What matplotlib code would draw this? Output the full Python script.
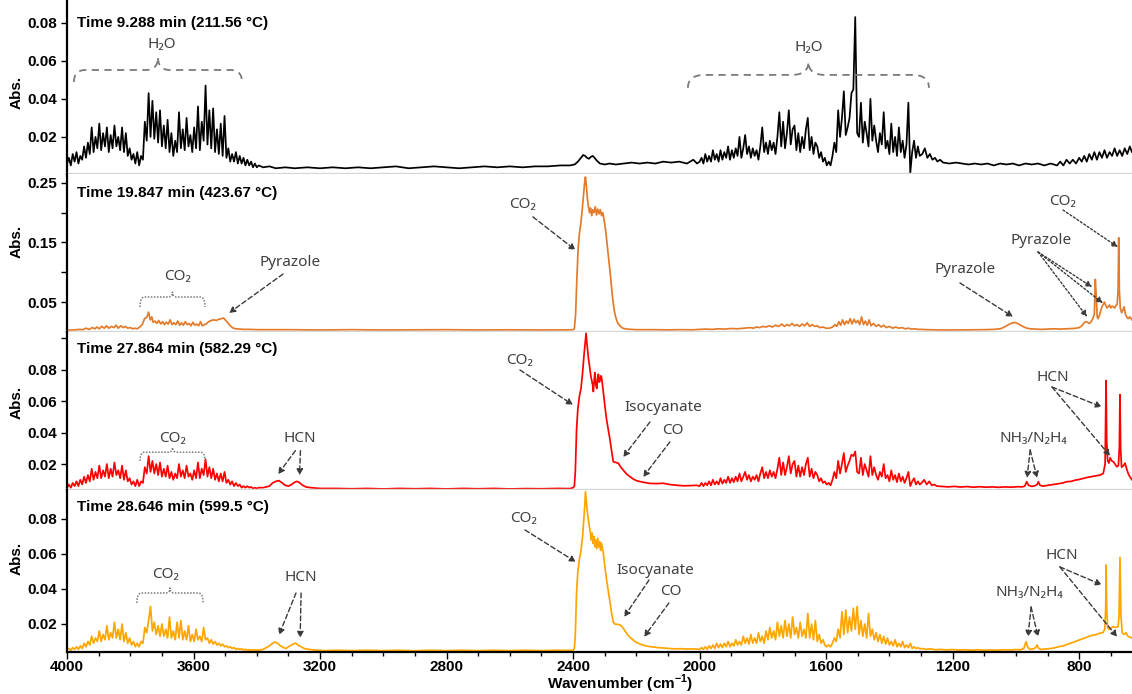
import numpy as np
import matplotlib
matplotlib.use('Agg')
import matplotlib.pyplot as plt
from matplotlib.ticker import FixedLocator, MultipleLocator, FormatStrFormatter

plt.rcParams['font.family'] = ['Liberation Sans', 'DejaVu Sans']
plt.rcParams['mathtext.fontset'] = 'custom'
plt.rcParams['mathtext.rm'] = 'Liberation Sans'
plt.rcParams['mathtext.bf'] = 'Liberation Sans:bold'

# ---- data (absorbance in mAbs) ----
titles = ['Time 9.288 min (211.56 °C)', 'Time 19.847 min (423.67 °C)',
          'Time 27.864 min (582.29 °C)', 'Time 28.646 min (599.5 °C)']
colors = ['black', '#E37B2B', '#FF0000', '#FFA500']

# panel 1 (211.56 °C): 4000-3400 cm-1 every 6 cm-1
p1_hi = [6, 9, 5, 11, 7, 12, 6, 10, 8, 15,
         9, 17, 11, 25, 12, 20, 14, 27, 13, 22,
         15, 25, 12, 21, 14, 26, 15, 20, 13, 25,
         12, 22, 10, 14, 8, 11, 6, 12, 5, 10,
         8, 28, 18, 43, 20, 39, 19, 33, 17, 34,
         15, 26, 14, 29, 12, 22, 10, 18, 12, 33,
         14, 24, 13, 30, 15, 21, 12, 25, 14, 36,
         13, 28, 18, 47, 16, 34, 14, 35, 12, 24,
         11, 27, 10, 31, 9, 14, 7, 11, 7, 12,
         6, 10, 6, 9, 5, 8, 5, 7, 4, 6,
         4]
p1_mid = [(3394, 5), (3380, 4), (3360, 4.5), (3340, 3.5), (3310, 4), (3280, 3.5), (3240, 4),
          (3200, 3.5), (3160, 4), (3120, 3.5), (3080, 4), (3040, 3.5), (3000, 4), (2960, 4.5),
          (2920, 3.5), (2880, 4), (2840, 4.5), (2800, 4), (2760, 3.5), (2720, 4), (2680, 4.5),
          (2640, 4), (2600, 4.5), (2560, 4), (2520, 4.5), (2480, 4.5), (2440, 5), (2410, 5),
          (2395, 5.5), (2385, 7), (2375, 9), (2368, 10.5), (2362, 10), (2356, 9), (2350, 8.5),
          (2344, 9.5), (2338, 10), (2332, 9), (2325, 7.5), (2315, 6), (2300, 5.5), (2285, 6),
          (2265, 5.5), (2240, 6), (2215, 6.5), (2190, 6), (2165, 6.5), (2140, 6), (2115, 7),
          (2090, 6.5), (2065, 7), (2040, 6), (2020, 8), (2008, 6)]
# 2000-1304 cm-1 every 6 cm-1
p1_lo = [7, 9, 6, 11, 7, 10, 7, 13, 8, 11,
         7, 13, 8, 12, 9, 15, 8, 13, 9, 14,
         10, 20, 9, 14, 21, 11, 15, 9, 14, 10,
         13, 8, 15, 25, 12, 17, 11, 18, 13, 17,
         11, 20, 33, 15, 28, 14, 22, 34, 16, 24,
         26, 13, 22, 12, 20, 14, 24, 30, 13, 20,
         11, 17, 15, 9, 12, 7, 9, 5, 7, 5,
         10, 17, 12, 34, 20, 30, 44, 21, 25, 30,
         43, 45, 83, 22, 20, 38, 17, 28, 22, 15,
         40, 18, 26, 18, 12, 22, 16, 33, 14, 18,
         11, 27, 12, 20, 10, 25, 12, 18, 9, 16,
         38, 1, 12, 18, 9, 15, 10]
p1_end = [(1296, 11), (1288, 14), (1280, 9), (1272, 11), (1264, 8), (1256, 9), (1248, 7),
          (1240, 8), (1230, 6.5), (1210, 6), (1190, 6.5), (1170, 6), (1150, 5.5), (1130, 6),
          (1110, 5.5), (1090, 6), (1070, 5), (1050, 6), (1030, 5.5), (1010, 6), (990, 5),
          (970, 6), (950, 5.5), (930, 6), (910, 5), (890, 6), (870, 5), (860, 7), (850, 5),
          (840, 8), (830, 6), (820, 8), (810, 6), (800, 9), (792, 7), (784, 10), (776, 7),
          (768, 11), (760, 8), (752, 12), (744, 8), (736, 12), (728, 9), (720, 13), (712, 9),
          (704, 12), (696, 10), (688, 14), (680, 10), (672, 13), (664, 10), (656, 14),
          (648, 11), (640, 15), (633, 12)]

# panel 2 (423.67 °C)
p2 = [(4000, 3), (3980, 3), (3960, 4), (3950, 3.5), (3940, 6), (3930, 4), (3920, 7), (3912, 5),
      (3905, 8), (3898, 5), (3890, 9), (3882, 6), (3875, 10), (3868, 6), (3860, 9), (3852, 7),
      (3845, 11), (3838, 6), (3830, 10), (3822, 7), (3815, 9), (3808, 6), (3800, 7), (3792, 5),
      (3785, 6), (3778, 5), (3770, 8), (3762, 12), (3755, 22), (3748, 24), (3742, 33),
      (3737, 20), (3732, 25), (3728, 16), (3722, 18), (3716, 14), (3710, 19), (3704, 13),
      (3698, 17), (3692, 12), (3686, 16), (3680, 13), (3674, 20), (3668, 12), (3662, 15),
      (3656, 12), (3650, 18), (3644, 11), (3638, 15), (3632, 11), (3626, 17), (3620, 12),
      (3614, 14), (3608, 10), (3602, 16), (3596, 11), (3590, 13), (3584, 10), (3578, 17),
      (3572, 10), (3566, 12), (3560, 13), (3552, 17), (3544, 19), (3536, 20), (3528, 19),
      (3520, 21), (3512, 22), (3505, 23), (3498, 19), (3490, 14), (3482, 9), (3474, 6),
      (3466, 5), (3455, 4.5), (3440, 4), (3420, 4), (3400, 3.5), (3300, 3.5), (3200, 3),
      (3100, 3.5), (3000, 3), (2900, 3.2), (2800, 3.5), (2700, 3), (2600, 3.3), (2500, 3),
      (2420, 3.2), (2400, 3.5), (2396, 5), (2392, 30), (2388, 90), (2384, 140), (2380, 165),
      (2376, 180), (2372, 200), (2368, 225), (2364, 248), (2361, 260), (2358, 245), (2355, 225),
      (2352, 212), (2348, 200), (2345, 208), (2341, 195), (2338, 205), (2334, 200), (2330, 210),
      (2326, 196), (2322, 206), (2318, 198), (2314, 205), (2310, 195), (2306, 200), (2302, 188),
      (2297, 170), (2292, 145), (2287, 120), (2282, 95), (2278, 72), (2274, 52), (2270, 36),
      (2266, 26), (2262, 19), (2258, 14), (2252, 10), (2246, 7), (2240, 5.5), (2230, 4.5),
      (2215, 4), (2200, 3.5), (2150, 3.5), (2100, 3.2), (2060, 3.5), (2020, 3.3),
      (2000, 4), (1980, 4.5), (1960, 4), (1940, 5), (1920, 4.5), (1900, 5.5), (1880, 5),
      (1860, 6), (1840, 7), (1830, 6), (1820, 8), (1810, 7), (1800, 9), (1790, 8), (1780, 10),
      (1770, 8), (1760, 11), (1750, 9), (1740, 13), (1732, 9), (1724, 12), (1716, 10),
      (1708, 14), (1700, 10), (1692, 12), (1684, 9), (1676, 13), (1668, 10), (1660, 15),
      (1652, 9), (1644, 12), (1636, 9), (1628, 10), (1620, 7), (1610, 8), (1600, 6), (1590, 6),
      (1580, 8), (1572, 12), (1566, 9), (1560, 17), (1554, 11), (1548, 20), (1542, 12),
      (1536, 18), (1530, 14), (1524, 22), (1518, 13), (1512, 21), (1506, 15), (1500, 19),
      (1494, 12), (1488, 25), (1482, 12), (1476, 18), (1470, 11), (1464, 20), (1458, 10),
      (1450, 14), (1442, 9), (1434, 12), (1426, 8), (1418, 11), (1410, 7), (1400, 9), (1390, 6),
      (1380, 8), (1370, 6), (1360, 7), (1350, 5), (1340, 6), (1330, 4.5), (1320, 5), (1310, 4),
      (1300, 4), (1280, 3.5), (1260, 3.2), (1240, 3), (1200, 3), (1150, 3.2), (1100, 3.5),
      (1070, 4), (1050, 5), (1040, 7), (1030, 10), (1020, 13), (1010, 15), (1003, 15.5),
      (995, 14), (985, 11), (975, 8), (965, 6), (955, 5), (940, 4.5), (920, 4), (900, 4.5),
      (880, 5), (860, 4.5), (840, 5), (820, 5.5), (810, 6), (800, 7), (792, 10), (786, 14),
      (780, 17), (774, 16), (768, 14), (762, 17), (757, 22), (752, 30), (749, 88), (746, 60),
      (743, 25), (740, 22), (736, 28), (732, 35), (728, 42), (724, 46), (720, 50), (716, 44),
      (712, 40), (708, 42), (704, 45), (700, 40), (696, 43), (692, 42), (688, 40), (684, 44),
      (680, 46), (677, 70), (675, 158), (673, 70), (670, 40), (666, 32), (662, 36), (658, 42),
      (654, 30), (650, 25), (645, 22), (640, 25), (633, 20)]

# panel 3 (582.29 °C)
p3_hi = [5, 7, 5, 8, 6, 9, 6, 10, 7, 12,
         8, 13, 9, 17, 10, 15, 11, 19, 11, 16,
         12, 20, 11, 17, 12, 21, 13, 16, 11, 19,
         10, 16, 9, 11, 7, 9, 6, 10, 6, 9,
         8, 18, 14, 25, 15, 22, 14, 20, 13, 21,
         12, 17, 12, 19, 11, 15, 10, 14, 11, 20,
         12, 16, 11, 19, 12, 14, 10, 16, 11, 21,
         11, 17, 13, 23, 12, 18, 11, 17, 10, 14,
         9, 14, 9, 15, 8, 10, 7, 9, 6, 8,
         6, 7, 5, 6, 5, 6, 5, 5.5, 4.5, 5,
         4.5]
p3_mid = [(3394, 5), (3380, 5), (3370, 5.5), (3360, 6), (3350, 8), (3340, 9), (3330, 9.5),
          (3320, 8), (3310, 6.5), (3300, 6), (3290, 7), (3280, 8.5), (3272, 9), (3264, 8),
          (3255, 6.5), (3245, 5.5), (3230, 5), (3200, 4.5), (3150, 4.5), (3100, 4.3),
          (3050, 4.5), (3000, 4.2), (2950, 4.5), (2900, 4.3), (2850, 4.5), (2800, 4.2),
          (2750, 4.5), (2700, 4.3), (2650, 4.5), (2600, 4.2), (2550, 4.4), (2500, 4.3),
          (2450, 4.5), (2410, 4.4), (2400, 5), (2396, 6), (2393, 15), (2389, 42), (2385, 55),
          (2380, 63), (2375, 68), (2370, 78), (2366, 88), (2362, 97), (2359, 103), (2356, 96),
          (2352, 88), (2348, 82), (2344, 76), (2341, 73), (2338, 70), (2336, 66), (2333, 74),
          (2331, 78), (2328, 70), (2325, 68), (2322, 75), (2320, 77), (2317, 72), (2315, 73),
          (2312, 76), (2310, 75), (2307, 70), (2304, 65), (2299, 56), (2294, 48), (2288, 41),
          (2283, 35), (2278, 28), (2273, 21.5), (2265, 21), (2257, 20.5), (2249, 18),
          (2241, 16), (2230, 13.5), (2220, 12), (2210, 10.5), (2199, 9.4), (2180, 8.5),
          (2157, 7.7), (2135, 7.6), (2115, 7.8), (2095, 7), (2070, 6.5), (2051, 6.2),
          (2030, 6.3), (2010, 6.5)]
p3_lo = [6, 8, 6, 8, 6.5, 9, 6.5, 10, 7, 9,
         7, 11, 7.5, 10, 8, 12, 8, 11, 8.5, 12,
         9, 14, 9, 12, 15, 10, 13, 9, 12, 10,
         13, 9, 14, 18, 11, 15, 11, 16, 12, 15,
         11, 17, 24, 13, 21, 13, 18, 25, 14, 20,
         22, 12, 19, 12, 18, 13, 20, 24, 12, 17,
         11, 15, 13, 9, 11, 8, 9, 7, 8, 6.5,
         10, 15, 11, 22, 14, 20, 27, 15, 19, 22,
         26, 25, 28, 15, 14, 24, 13, 20, 16, 12,
         25, 13, 18, 13, 10, 15, 12, 20, 11, 13,
         9, 16, 10, 13, 8.5, 14, 9, 12, 8, 11,
         15, 6, 9, 11, 7, 9, 7]
p3_end = [(1298, 8), (1290, 10), (1282, 7), (1274, 9), (1266, 6.5), (1258, 7), (1250, 6),
          (1235, 5.8), (1215, 5.5), (1195, 5.8), (1175, 5.4), (1155, 5.7), (1135, 5.3),
          (1115, 5.6), (1095, 5.3), (1075, 5.5), (1055, 5.2), (1035, 5.5), (1015, 5.3),
          (995, 5.6), (980, 5.5), (972, 6), (966, 8.8), (960, 6.5), (950, 5.8), (940, 6.2),
          (933, 7), (929, 8.8), (924, 6.5), (915, 6), (905, 6.3), (892, 6.7), (880, 7),
          (866, 7.5), (852, 8), (839, 8.8), (825, 9), (812, 9.8), (800, 10.2), (787, 10.9),
          (775, 11.5), (762, 12), (748, 12.5), (734, 13), (724, 14), (718, 20), (715, 73),
          (713, 35), (710, 22), (706, 20.6), (702, 24), (697, 22), (692, 21.5), (687, 20),
          (681, 18.3), (676, 19), (673, 30), (671, 64), (669, 30), (666, 18), (660, 19),
          (655, 20.6), (650, 17), (645, 14), (640, 12), (633, 10)]

# panel 4 (599.5 °C)
p4_hi = [5.5, 6, 5, 6.5, 5.5, 7, 5.5, 7.5, 6, 9,
         7, 10, 8, 13, 9, 12, 10, 16, 10, 14,
         11, 19, 11, 15, 12, 21, 12, 17, 11, 20,
         10, 15, 9, 12, 8, 10, 7, 9, 7, 10,
         9, 18, 15, 22, 30, 16, 21, 14, 19, 13,
         20, 13, 17, 12, 24, 12, 16, 11, 21, 12,
         22, 11, 16, 11, 19, 10, 14, 10, 17, 11,
         13, 10, 18, 11, 12, 9, 11, 8.5, 10, 8,
         9, 7.5, 8.5, 7, 7.5, 6.5, 7, 6, 6.5, 5.5,
         6, 5.5, 5.8, 5.2, 5.5, 5, 5.4, 5, 5.3, 5,
         5.2]
p4_mid = [(3394, 5), (3380, 5.5), (3370, 6.5), (3360, 7.5), (3350, 9), (3342, 9.7), (3335, 9),
          (3325, 7.5), (3315, 6.5), (3308, 6), (3300, 7), (3290, 8), (3283, 8.8), (3277, 9),
          (3270, 8), (3260, 7), (3250, 6), (3235, 5.5), (3210, 5), (3180, 4.8), (3150, 5),
          (3100, 4.8), (3050, 5), (3000, 4.8), (2950, 5), (2900, 4.7), (2850, 5), (2800, 4.8),
          (2750, 5), (2700, 4.8), (2650, 5), (2600, 4.8), (2550, 5), (2500, 4.8), (2450, 5),
          (2410, 4.9), (2400, 5), (2396, 6), (2393, 14), (2389, 38), (2385, 50), (2380, 57),
          (2375, 62), (2370, 70), (2366, 80), (2363, 88), (2361, 95.6), (2358, 90), (2355, 84),
          (2352, 80), (2349, 76), (2346, 73), (2343, 68), (2340, 72), (2337, 66), (2334, 70),
          (2331, 64), (2328, 68), (2325, 63), (2322, 69), (2319, 64), (2316, 67), (2313, 62),
          (2310, 66), (2307, 63), (2304, 60), (2299, 52), (2294, 45), (2288, 38), (2283, 32),
          (2278, 26), (2273, 21), (2268, 20), (2260, 19.8), (2252, 19.5), (2245, 18.5),
          (2236, 16), (2226, 13.5), (2218, 12), (2211, 11), (2200, 9.5), (2185, 8.3),
          (2170, 7.5), (2154, 7), (2130, 6.5), (2110, 6.2), (2096, 6), (2080, 5.8), (2060, 5.9),
          (2040, 5.7), (2020, 5.8), (2006, 5.6)]
p4_lo = [5.5, 6.5, 5.5, 7, 5.5, 7.5, 6, 8, 6, 9,
         6.5, 8.5, 6.5, 9, 7, 10, 7, 9, 7.5, 11,
         8, 10, 8, 13, 9, 12, 8.5, 14, 9, 12,
         9, 15, 10, 13, 9, 16, 11, 18, 12, 16,
         11, 21, 13, 19, 12, 22, 13, 20, 12, 24,
         14, 18, 12, 21, 13, 17, 12, 26, 12, 20,
         11, 22, 10, 14, 9, 11, 8, 7, 8, 7,
         9, 12, 10, 17, 12, 27, 14, 28, 15, 24,
         16, 29, 17, 30, 14, 22, 13, 20, 12, 26,
         13, 17, 11, 15, 10, 14, 9, 13, 8.5, 12,
         8, 10, 7.5, 11, 7, 9, 7, 10, 6.5, 8,
         6.5, 9, 6, 7, 6, 6.5, 5.8]
p4_end = [(1296, 6), (1285, 5.5), (1270, 5.8), (1255, 5.3), (1240, 5.5), (1220, 5.2),
          (1200, 5.4), (1180, 5.1), (1160, 5.3), (1140, 5), (1120, 5.3), (1100, 5), (1080, 5.2),
          (1060, 5), (1040, 5.3), (1020, 5.1), (1000, 5.4), (985, 5.3), (975, 6), (968, 9.9),
          (962, 6.5), (955, 5.5), (945, 5.8), (938, 6.5), (933, 8), (928, 6), (920, 5.5),
          (905, 5.8), (890, 6), (880, 6.3), (865, 7), (850, 7.5), (835, 8.5), (820, 9.5),
          (805, 10.5), (790, 11.5), (775, 12.5), (760, 13.5), (745, 14), (734, 14.8), (725, 15),
          (719, 17), (716, 30), (715, 53.7), (713, 30), (710, 18), (706, 17), (700, 17.5),
          (693, 18.5), (685, 18), (677, 18.5), (674, 25), (671, 58), (668, 25), (664, 15),
          (658, 14), (652, 15), (646, 13), (640, 12.5), (633, 12)]

ylims = [(0.0005, 0.092), (-0.0004, 0.265), (0.0035, 0.1038), (0.004, 0.0965)]
yticks = [[0.02, 0.04, 0.06, 0.08], [0.05, 0.15, 0.25],
          [0.02, 0.04, 0.06, 0.08], [0.02, 0.04, 0.06, 0.08]]
yminor = [[], [0.10, 0.20], [0.10], []]
ylab_y = [0.47, 0.57, 0.557, 0.58]
title_y = [0.868, 0.88, 0.892, 0.895]


def build(hi, mid, lo, end):
    wn_hi = 4000 - 6 * np.arange(len(hi))
    wn_lo = 2000 - 6 * np.arange(len(lo))
    w_mid, a_mid = zip(*mid)
    w_end, a_end = zip(*end)
    wn = np.concatenate([wn_hi, w_mid, wn_lo, w_end])
    ab = np.concatenate([hi, a_mid, lo, a_end]) / 1000.0
    return wn, ab


spectra = [build(p1_hi, p1_mid, p1_lo, p1_end),
           (np.array([p[0] for p in p2]), np.array([p[1] for p in p2]) / 1000.0),
           build(p3_hi, p3_mid, p3_lo, p3_end),
           build(p4_hi, p4_mid, p4_lo, p4_end)]

ANN = dict(color='#404040', fontsize=11, family=['Noto Sans', 'DejaVu Sans'],
           ha='center', va='center')


def arrow(ax, start, end, ls=(0, (3.5, 2)), lw=1.0):
    ax.annotate('', xy=end, xytext=start,
                arrowprops=dict(arrowstyle='-|>', linestyle=ls, lw=lw, color='#3a3a3a',
                                mutation_scale=9, shrinkA=0, shrinkB=0))


def bez(p0, p1, p2, n=14):
    t = np.linspace(0, 1, n)[:, None]
    return (1 - t) ** 2 * np.array(p0) + 2 * (1 - t) * t * np.array(p1) + t ** 2 * np.array(p2)


def brace(ax, w0, w1, y, h, tip, ls, lw=1.1, color='#7a7a7a'):
    wm = (w0 + w1) / 2
    dw = (w0 - w1) * 0.07
    pts = np.vstack([
        bez((w0, y - h), (w0, y), (w0 - dw, y)),
        bez((wm + dw, y), (wm, y), (wm, y + tip)),
        bez((wm, y + tip), (wm, y), (wm - dw, y)),
        bez((w1 + dw, y), (w1, y), (w1, y - h)),
    ])
    ax.plot(pts[:, 0], pts[:, 1], ls=ls, lw=lw, color=color)


fig = plt.figure(figsize=(11.32, 6.94), dpi=100)
rects = [(0.0592, 0.7493, 0.9408, 0.2507), (0.0592, 0.5216, 0.9408, 0.2277),
         (0.0592, 0.2939, 0.9408, 0.2277), (0.0592, 0.0605, 0.9408, 0.2334)]
axes = []
for i, r in enumerate(rects):
    ax = fig.add_axes(r)
    wn, ab = spectra[i]
    ax.plot(wn, ab, color=colors[i], lw=1.25)
    ax.set_xlim(4000, 633)
    ax.set_ylim(*ylims[i])
    ax.yaxis.set_major_locator(FixedLocator(yticks[i]))
    ax.yaxis.set_minor_locator(FixedLocator(yminor[i]))
    ax.yaxis.set_major_formatter(FormatStrFormatter('%.2f'))
    ax.tick_params(axis='y', which='both', direction='out', length=4, width=1,
                   labelsize=11, pad=3)
    for lab in ax.get_yticklabels():
        lab.set_fontweight('bold')
    ax.spines['top'].set_visible(False)
    ax.spines['right'].set_visible(False)
    ax.spines['left'].set_linewidth(1.6)
    ax.set_ylabel('Abs.', fontsize=11, fontweight='bold')
    ax.yaxis.set_label_coords(-0.0404, ylab_y[i])
    ax.text(0.0094, title_y[i], titles[i], transform=ax.transAxes, fontsize=11,
            fontweight='bold', va='center', ha='left')
    if i < 3:
        ax.spines['bottom'].set_color('#d6d6d6')
        ax.spines['bottom'].set_linewidth(2.4)
        ax.set_xticks([])
    axes.append(ax)

ax4 = axes[3]
ax4.xaxis.set_major_locator(MultipleLocator(400))
ax4.xaxis.set_minor_locator(MultipleLocator(100))
ax4.tick_params(axis='x', which='major', direction='out', length=5, width=1, labelsize=11,
                pad=1)
ax4.tick_params(axis='x', which='minor', direction='out', length=3, width=1)
ax4.spines['bottom'].set_linewidth(1.6)
for lab in ax4.get_xticklabels():
    lab.set_fontweight('bold')
ax4.set_xlabel(r'Wavenumber (cm$^{\mathbf{-1}}$)', fontsize=11, fontweight='bold')
ax4.xaxis.set_label_coords(0.519, -0.198)
ax4.xaxis.label.set_va('center')

# ---- annotations ----
a1, a2, a3, a4 = axes
brace(a1, 3978, 3447, 0.0552, 0.0063, 0.0069, ls=(0, (4, 3)), lw=1.3)
a1.text(3700, 0.0684, 'H₂O', **ANN)
brace(a1, 2037, 1275, 0.0526, 0.0068, 0.0069, ls=(0, (4, 3)), lw=1.3)
a1.text(1654, 0.0668, 'H₂O', **ANN)

brace(a2, 3769, 3564, 0.0584, 0.0168, 0.0084, ls=(0, (1, 1)))
a2.text(3652, 0.092, 'CO₂', **ANN)
a2.text(3295, 0.117, 'Pyrazole', **ANN)
arrow(a2, (3317, 0.097), (3488, 0.0315))
a2.text(2561, 0.213, 'CO₂', **ANN)
arrow(a2, (2527, 0.193), (2392, 0.137))
a2.text(1161, 0.104, 'Pyrazole', **ANN)
arrow(a2, (1177, 0.082), (1009, 0.025))
a2.text(921, 0.154, 'Pyrazole', **ANN)
for end in [(759, 0.075), (725, 0.048), (775, 0.025)]:
    arrow(a2, (930, 0.134), end, ls=(0, (1.5, 1.5)))
a2.text(851, 0.218, 'CO₂', **ANN)
arrow(a2, (851, 0.2045), (677, 0.142), ls=(0, (1.5, 1.5)))

brace(a3, 3769, 3564, 0.0275, 0.0055, 0.003, ls=(0, (1, 1)))
a3.text(3665, 0.036, 'CO₂', **ANN)
a3.text(3265, 0.036, 'HCN', **ANN)
arrow(a3, (3278, 0.0285), (3333, 0.0135))
arrow(a3, (3262, 0.0285), (3265, 0.0128))
a3.text(2568, 0.086, 'CO₂', **ANN)
arrow(a3, (2568, 0.0797), (2400, 0.0575))
a3.text(2116, 0.0556, 'Isocyanate', **ANN)
arrow(a3, (2157, 0.0467), (2242, 0.0244))
a3.text(2084, 0.0416, 'CO', **ANN)
arrow(a3, (2094, 0.034), (2179, 0.0117))
a3.text(946, 0.0365, 'NH₃/N₂H₄', **ANN)
arrow(a3, (955, 0.0289), (965, 0.0111))
arrow(a3, (955, 0.0289), (933, 0.0111))
a3.text(883, 0.0752, 'HCN', **ANN)
arrow(a3, (886, 0.0689), (728, 0.0562))
arrow(a3, (886, 0.0689), (702, 0.0251))

brace(a4, 3779, 3570, 0.0377, 0.0057, 0.0029, ls=(0, (1, 1)))
a4.text(3687, 0.048, 'CO₂', **ANN)
a4.text(3260, 0.0463, 'HCN', **ANN)
arrow(a4, (3276, 0.0377), (3330, 0.0137))
arrow(a4, (3260, 0.0377), (3263, 0.012))
a4.text(2558, 0.08, 'CO₂', **ANN)
arrow(a4, (2552, 0.0737), (2391, 0.0554))
a4.text(2141, 0.0508, 'Isocyanate', **ANN)
arrow(a4, (2160, 0.0451), (2239, 0.024))
a4.text(2090, 0.0383, 'CO', **ANN)
arrow(a4, (2097, 0.032), (2176, 0.0126))
a4.text(959, 0.0377, 'NH₃/N₂H₄', **ANN)
arrow(a4, (952, 0.0297), (962, 0.0126))
arrow(a4, (952, 0.0297), (930, 0.0126))
a4.text(854, 0.0594, 'HCN', **ANN)
arrow(a4, (861, 0.0526), (728, 0.0423))
arrow(a4, (861, 0.0526), (680, 0.0126))

fig.savefig('out.png', dpi=100)
